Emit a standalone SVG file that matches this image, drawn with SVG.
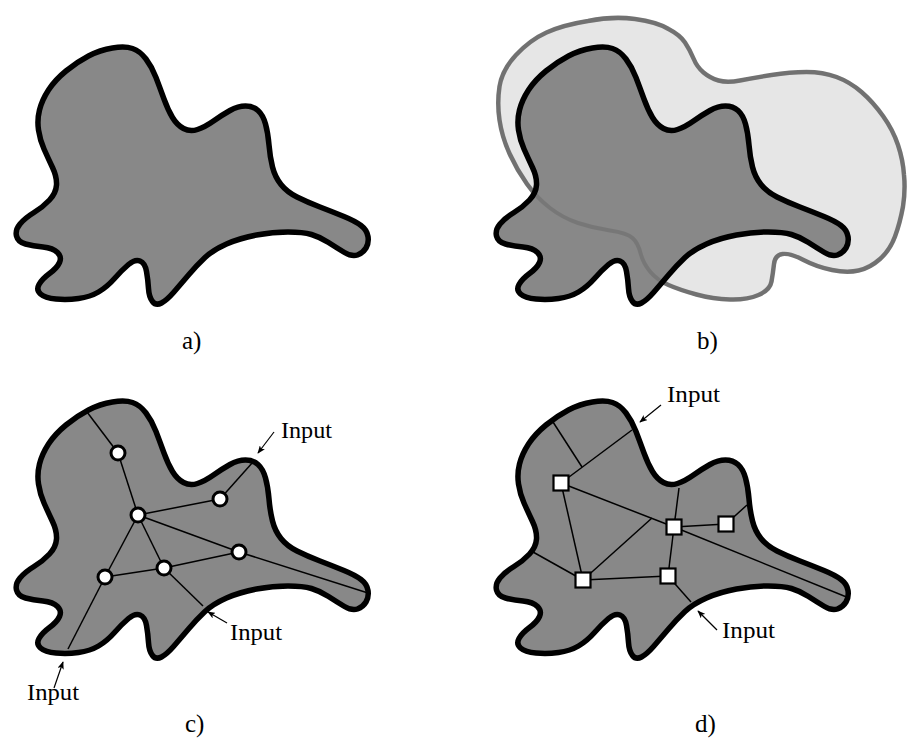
<svg xmlns="http://www.w3.org/2000/svg" xmlns:xlink="http://www.w3.org/1999/xlink" width="908" height="738" viewBox="0 0 908 738">
<style>
.blob{fill:#888888;stroke:#000;stroke-width:5.5;stroke-linejoin:round}
.outer{fill:#e6e6e6;stroke:#818181;stroke-width:4.5}
.outer-over{fill:none;stroke:#000;stroke-opacity:0.12;stroke-width:4}
.edge{stroke:#000;stroke-width:1.5;fill:none}
.cnode{fill:#fff;stroke:#000;stroke-width:3}
.snode{fill:#fff;stroke:#000;stroke-width:2.2}
.arrow{stroke:#000;stroke-width:1.2;fill:none;marker-end:url(#ah)}
.lbl{font-family:"Liberation Serif","Times New Roman",serif;font-size:23px;fill:#000}
.cap{font-family:"Liberation Serif","Times New Roman",serif;font-size:25px;fill:#000}
</style>
<defs>
<path id="blob" d="M132.5,48.5 Q125,46 112.5,48 Q100,50 88.5,56 Q77,62 66,71 Q55,80 48.5,90 Q42,100 39.5,110 Q37,120 38.5,130 Q40,140 44,149 Q48,158 52.5,167.5 Q57,177 56.5,185 Q56,193 49.5,200 Q43,207 34,212.5 Q25,218 20,224 Q15,230 16.5,236 Q18,242 25.5,244 Q33,246 43,247 Q53,248 57.5,252.5 Q62,257 59.5,262.5 Q57,268 49.5,273.5 Q42,279 39,284.5 Q36,290 40.5,294 Q45,298 56,299 Q67,300 78.5,298.5 Q90,297 98.5,292 Q107,287 114.5,278.5 Q122,270 128.5,264.5 Q135,259 140,261 Q145,263 146.5,271.5 Q148,280 148.5,288.5 Q149,297 152.5,301.5 Q156,306 161.5,303 Q167,300 173.5,292.5 Q180,285 188.5,275 Q197,265 205,257.5 Q213,250 226.5,244 Q240,238 256.5,235 Q273,232 288,232 Q303,232 311.5,234.5 Q320,237 328.5,242.5 Q337,248 344.5,252.5 Q352,257 357.5,255 Q363,253 366,248 Q369,243 368,236.5 Q367,230 361,225.5 Q355,221 344,216.5 Q333,212 320,207 Q307,202 297,197 Q287,192 281,184.5 Q275,177 272.5,167 Q270,157 269,145 Q268,133 265.5,124 Q263,115 258,110.5 Q253,106 245.5,106 Q238,106 230,110.5 Q222,115 213.5,121 Q205,127 197.5,129.5 Q190,132 183.5,128.5 Q177,125 172.5,117.5 Q168,110 164,99 Q160,88 156,77.5 Q152,67 146,59 Q140,51 132.5,48.5 Z"/>
<path id="outerblob" d="M516,55 Q530,40 546.5,32.5 Q563,25 588,21 Q613,16 635,19 Q657,22 668.5,29 Q680,35 685,42.5 Q690,50 693.5,58.5 Q697,67 703.5,72.5 Q710,78 718.5,80.5 Q727,83 740,80.5 Q753,78 771.5,75 Q790,72 806.5,72 Q823,72 836.5,77 Q850,82 861.5,92 Q873,102 883,116 Q893,130 898,145 Q903,160 904,175 Q905.5,190 903,206.5 Q900,223 895,236.5 Q890,250 880,259 Q870,268 858.5,270.5 Q847,273 832,270 Q817,267 803.5,260 Q790,253 782.5,254 Q775,255 774,264 Q773,273 771.5,281.5 Q770,290 758.5,295 Q747,300 730,299.5 Q713,299 696.5,294.5 Q680,290 668.5,285 Q657,280 650,271.5 Q643,263 640.5,253 Q638,243 632.5,238 Q627,233 610,230.5 Q593,228 578,223 Q563,218 550,208 Q537,198 527,184 Q517,170 509.5,153.5 Q502,137 499.5,120 Q497,103 499.5,86.5 Q502,70 516,55 Z"/>
<marker id="ah" viewBox="0 0 10 8" refX="9" refY="4" markerWidth="8" markerHeight="6.4" markerUnits="userSpaceOnUse" orient="auto">
<path d="M0,0 L10,4 L0,8 L2.5,4 Z" fill="#000"/>
</marker>
</defs>

<!-- Panel a -->
<g id="panel-a">
<use xlink:href="#blob" class="blob"/>
<text class="cap" x="182" y="349">a)</text>
</g>

<!-- Panel b -->
<g id="panel-b">
<use xlink:href="#outerblob" class="outer"/>
<use xlink:href="#blob" class="blob" transform="translate(480,0)"/>
<use xlink:href="#outerblob" class="outer-over"/>
<text class="cap" x="697" y="349">b)</text>
</g>

<!-- Panel c -->
<g id="panel-c">
<use xlink:href="#blob" class="blob" transform="translate(0,354)"/>
<g id="connectors-c">
<line class="edge" x1="87" y1="412" x2="118" y2="453"/>
<line class="edge" x1="118" y1="453" x2="138" y2="515"/>
<line class="edge" x1="138" y1="515" x2="220" y2="499"/>
<line class="edge" x1="220" y1="499" x2="253" y2="462"/>
<line class="edge" x1="138" y1="515" x2="239" y2="552"/>
<line class="edge" x1="239" y1="552" x2="368" y2="593"/>
<line class="edge" x1="138" y1="515" x2="164" y2="568"/>
<line class="edge" x1="138" y1="515" x2="105" y2="577"/>
<line class="edge" x1="105" y1="577" x2="164" y2="568"/>
<line class="edge" x1="164" y1="568" x2="239" y2="552"/>
<line class="edge" x1="105" y1="577" x2="68" y2="649"/>
<line class="edge" x1="164" y1="568" x2="203" y2="606"/>
<line class="arrow" x1="274" y1="432" x2="258" y2="453"/>
<line class="arrow" x1="227" y1="623" x2="208" y2="612"/>
<line class="arrow" x1="54" y1="688" x2="63" y2="662"/>
</g>
<g id="c-n1"><circle class="cnode" cx="118" cy="453" r="7"/></g>
<g id="c-n2"><circle class="cnode" cx="138" cy="515" r="7"/></g>
<g id="c-n3"><circle class="cnode" cx="220" cy="499" r="7"/></g>
<g id="c-n4"><circle class="cnode" cx="239" cy="552" r="7"/></g>
<g id="c-n5"><circle class="cnode" cx="164" cy="568" r="7"/></g>
<g id="c-n6"><circle class="cnode" cx="105" cy="577" r="7"/></g>
<text class="lbl" x="281" y="438" textLength="51" lengthAdjust="spacingAndGlyphs">Input</text>
<text class="lbl" x="230" y="640" textLength="52" lengthAdjust="spacingAndGlyphs">Input</text>
<text class="lbl" x="27" y="700" textLength="52" lengthAdjust="spacingAndGlyphs">Input</text>
<text class="cap" x="185" y="732">c)</text>
</g>

<!-- Panel d -->
<g id="panel-d">
<use xlink:href="#blob" class="blob" transform="translate(480,354)"/>
<g id="connectors-d">
<line class="edge" x1="553" y1="422" x2="582" y2="467"/>
<line class="edge" x1="561" y1="483" x2="632" y2="430"/>
<line class="edge" x1="561" y1="483" x2="674" y2="527"/>
<line class="edge" x1="561" y1="483" x2="583" y2="580"/>
<line class="edge" x1="583" y1="580" x2="533" y2="552"/>
<line class="edge" x1="583" y1="580" x2="652" y2="518"/>
<line class="edge" x1="583" y1="580" x2="668" y2="576"/>
<line class="edge" x1="668" y1="576" x2="674" y2="527"/>
<line class="edge" x1="674" y1="527" x2="726" y2="524"/>
<line class="edge" x1="726" y1="524" x2="747" y2="505"/>
<line class="edge" x1="674" y1="527" x2="679" y2="488"/>
<line class="edge" x1="674" y1="527" x2="849" y2="598"/>
<line class="edge" x1="668" y1="576" x2="691" y2="602"/>
<line class="arrow" x1="661" y1="405" x2="640" y2="422"/>
<line class="arrow" x1="717" y1="630" x2="698" y2="611"/>
</g>
<g id="d-n1"><rect class="snode" x="553.5" y="475.5" width="15" height="15"/></g>
<g id="d-n2"><rect class="snode" x="666.5" y="519.5" width="15" height="15"/></g>
<g id="d-n3"><rect class="snode" x="718.5" y="516.5" width="15" height="15"/></g>
<g id="d-n4"><rect class="snode" x="660.5" y="568.5" width="15" height="15"/></g>
<g id="d-n5"><rect class="snode" x="575.5" y="572.5" width="15" height="15"/></g>
<text class="lbl" x="667" y="402" textLength="53" lengthAdjust="spacingAndGlyphs">Input</text>
<text class="lbl" x="722" y="638" textLength="53" lengthAdjust="spacingAndGlyphs">Input</text>
<text class="cap" x="695" y="732">d)</text>
</g>
</svg>
